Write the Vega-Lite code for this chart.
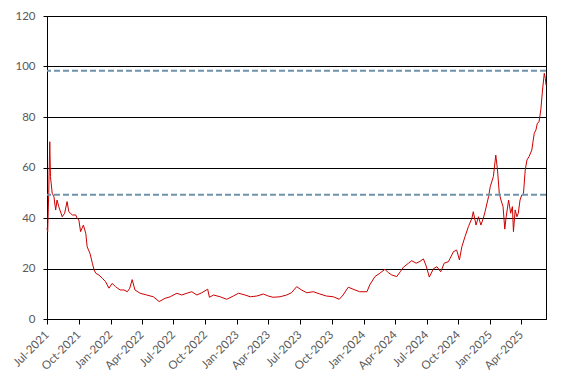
{
  "$schema": "https://vega.github.io/schema/vega-lite/v6.json",
  "width": 499,
  "height": 303,
  "autosize": "none",
  "padding": {"left": 47, "top": 16, "right": 28, "bottom": 66},
  "config": {
    "view": {"stroke": "#000000", "strokeWidth": 1},
    "font": "Lato",
    "axis": {"labelFont": "Lato", "labelFontSize": 11.5, "labelColor": "#595959", "domainColor": "#000000", "tickColor": "#000000", "domainWidth": 1, "tickWidth": 1}
  },
  "datasets": {
    "series": [
      {"date": "2021-07-01", "value": 36.0},
      {"date": "2021-07-03", "value": 34.6},
      {"date": "2021-07-06", "value": 50.0},
      {"date": "2021-07-09", "value": 70.2},
      {"date": "2021-07-11", "value": 56.4},
      {"date": "2021-07-16", "value": 49.8},
      {"date": "2021-07-21", "value": 48.4},
      {"date": "2021-07-26", "value": 43.2},
      {"date": "2021-07-30", "value": 47.1},
      {"date": "2021-08-04", "value": 44.5},
      {"date": "2021-08-14", "value": 40.5},
      {"date": "2021-08-21", "value": 41.9},
      {"date": "2021-08-28", "value": 46.5},
      {"date": "2021-09-02", "value": 42.5},
      {"date": "2021-09-12", "value": 41.2},
      {"date": "2021-09-22", "value": 41.2},
      {"date": "2021-09-26", "value": 39.9},
      {"date": "2021-10-01", "value": 39.2},
      {"date": "2021-10-06", "value": 34.6},
      {"date": "2021-10-14", "value": 37.2},
      {"date": "2021-10-21", "value": 33.9},
      {"date": "2021-10-25", "value": 28.6},
      {"date": "2021-11-02", "value": 26.0},
      {"date": "2021-11-09", "value": 22.1},
      {"date": "2021-11-14", "value": 19.4},
      {"date": "2021-11-19", "value": 18.1},
      {"date": "2021-11-28", "value": 17.4},
      {"date": "2021-12-08", "value": 16.1},
      {"date": "2021-12-17", "value": 14.8},
      {"date": "2021-12-27", "value": 12.2},
      {"date": "2022-01-05", "value": 14.1},
      {"date": "2022-01-15", "value": 12.8},
      {"date": "2022-01-28", "value": 11.5},
      {"date": "2022-02-08", "value": 11.5},
      {"date": "2022-02-18", "value": 10.8},
      {"date": "2022-02-25", "value": 12.2},
      {"date": "2022-03-04", "value": 15.6},
      {"date": "2022-03-12", "value": 11.5},
      {"date": "2022-03-27", "value": 10.2},
      {"date": "2022-04-15", "value": 9.5},
      {"date": "2022-05-04", "value": 8.8},
      {"date": "2022-05-21", "value": 6.9},
      {"date": "2022-06-07", "value": 8.2},
      {"date": "2022-06-22", "value": 8.8},
      {"date": "2022-07-11", "value": 10.2},
      {"date": "2022-07-25", "value": 9.5},
      {"date": "2022-08-09", "value": 10.2},
      {"date": "2022-08-23", "value": 10.8},
      {"date": "2022-09-07", "value": 9.5},
      {"date": "2022-09-21", "value": 10.4},
      {"date": "2022-10-08", "value": 11.8},
      {"date": "2022-10-13", "value": 8.6},
      {"date": "2022-10-25", "value": 9.5},
      {"date": "2022-11-13", "value": 8.8},
      {"date": "2022-12-02", "value": 7.8},
      {"date": "2022-12-21", "value": 9.1},
      {"date": "2023-01-05", "value": 10.2},
      {"date": "2023-01-24", "value": 9.5},
      {"date": "2023-02-08", "value": 8.8},
      {"date": "2023-02-27", "value": 9.1},
      {"date": "2023-03-18", "value": 9.9},
      {"date": "2023-04-01", "value": 9.1},
      {"date": "2023-04-15", "value": 8.6},
      {"date": "2023-05-05", "value": 8.8},
      {"date": "2023-05-24", "value": 9.5},
      {"date": "2023-06-07", "value": 10.4},
      {"date": "2023-06-22", "value": 12.8},
      {"date": "2023-07-06", "value": 11.5},
      {"date": "2023-07-21", "value": 10.4},
      {"date": "2023-08-09", "value": 10.8},
      {"date": "2023-08-28", "value": 9.9},
      {"date": "2023-09-16", "value": 9.1},
      {"date": "2023-10-06", "value": 8.8},
      {"date": "2023-10-23", "value": 7.8},
      {"date": "2023-11-03", "value": 9.5},
      {"date": "2023-11-18", "value": 12.6},
      {"date": "2023-12-02", "value": 11.8},
      {"date": "2023-12-21", "value": 10.8},
      {"date": "2024-01-11", "value": 10.8},
      {"date": "2024-01-19", "value": 13.5},
      {"date": "2024-02-03", "value": 16.8},
      {"date": "2024-02-17", "value": 18.1},
      {"date": "2024-03-03", "value": 19.7},
      {"date": "2024-03-13", "value": 18.3},
      {"date": "2024-03-23", "value": 17.4},
      {"date": "2024-04-06", "value": 16.8},
      {"date": "2024-04-16", "value": 18.7},
      {"date": "2024-04-25", "value": 20.5},
      {"date": "2024-05-10", "value": 22.1},
      {"date": "2024-05-19", "value": 23.1},
      {"date": "2024-06-01", "value": 22.1},
      {"date": "2024-06-12", "value": 22.8},
      {"date": "2024-06-22", "value": 23.8},
      {"date": "2024-06-30", "value": 21.0},
      {"date": "2024-07-09", "value": 16.6},
      {"date": "2024-07-21", "value": 19.9},
      {"date": "2024-07-31", "value": 20.7},
      {"date": "2024-08-11", "value": 18.7},
      {"date": "2024-08-21", "value": 22.1},
      {"date": "2024-09-02", "value": 22.7},
      {"date": "2024-09-07", "value": 24.0},
      {"date": "2024-09-17", "value": 26.7},
      {"date": "2024-09-26", "value": 27.3},
      {"date": "2024-10-04", "value": 23.4},
      {"date": "2024-10-11", "value": 28.6},
      {"date": "2024-10-20", "value": 32.6},
      {"date": "2024-10-30", "value": 36.6},
      {"date": "2024-11-09", "value": 39.9},
      {"date": "2024-11-13", "value": 42.5},
      {"date": "2024-11-21", "value": 37.2},
      {"date": "2024-11-28", "value": 40.5},
      {"date": "2024-12-05", "value": 37.2},
      {"date": "2024-12-12", "value": 39.9},
      {"date": "2024-12-17", "value": 42.5},
      {"date": "2024-12-27", "value": 48.4},
      {"date": "2025-01-01", "value": 52.4},
      {"date": "2025-01-10", "value": 56.4},
      {"date": "2025-01-17", "value": 64.9},
      {"date": "2025-01-22", "value": 59.0},
      {"date": "2025-01-27", "value": 49.8},
      {"date": "2025-02-01", "value": 47.1},
      {"date": "2025-02-07", "value": 44.5},
      {"date": "2025-02-12", "value": 35.6},
      {"date": "2025-02-16", "value": 40.5},
      {"date": "2025-02-23", "value": 47.1},
      {"date": "2025-03-01", "value": 41.9},
      {"date": "2025-03-06", "value": 44.5},
      {"date": "2025-03-09", "value": 34.6},
      {"date": "2025-03-14", "value": 43.2},
      {"date": "2025-03-19", "value": 40.5},
      {"date": "2025-03-23", "value": 41.9},
      {"date": "2025-03-28", "value": 47.1},
      {"date": "2025-04-02", "value": 49.1},
      {"date": "2025-04-07", "value": 49.8},
      {"date": "2025-04-12", "value": 59.0},
      {"date": "2025-04-17", "value": 63.0},
      {"date": "2025-04-23", "value": 64.3},
      {"date": "2025-05-01", "value": 66.9},
      {"date": "2025-05-08", "value": 73.5},
      {"date": "2025-05-13", "value": 74.9},
      {"date": "2025-05-17", "value": 77.5},
      {"date": "2025-05-22", "value": 78.1},
      {"date": "2025-05-27", "value": 82.8},
      {"date": "2025-06-01", "value": 90.7},
      {"date": "2025-06-06", "value": 97.3},
      {"date": "2025-06-09", "value": 95.3},
      {"date": "2025-06-11", "value": 92.7}
    ],
    "levels": [
      {"level": 98.3},
      {"level": 49.2}
    ]
  },
  "layer": [
    {
      "data": {"name": "series"},
      "mark": {"type": "line", "color": "#cc0000", "strokeWidth": 1},
      "encoding": {
        "x": {
          "field": "date",
          "type": "temporal",
          "scale": {"type": "utc", "domain": [{"year": 2021, "month": 7, "date": 1, "utc": true}, {"year": 2025, "month": 6, "date": 11, "utc": true}], "nice": false},
          "axis": {
            "title": null,
            "grid": false,
            "format": "%b-%Y",
            "labelAngle": -45,
            "labelAlign": "right",
            "labelBaseline": "middle",
            "labelOverlap": false,
            "labelBound": false,
            "labelFlush": false,
            "tickSize": 5,
            "labelPadding": 9,
            "values": [
              {"year": 2021, "month": 7, "date": 1, "utc": true},
              {"year": 2021, "month": 10, "date": 1, "utc": true},
              {"year": 2022, "month": 1, "date": 1, "utc": true},
              {"year": 2022, "month": 4, "date": 1, "utc": true},
              {"year": 2022, "month": 7, "date": 1, "utc": true},
              {"year": 2022, "month": 10, "date": 1, "utc": true},
              {"year": 2023, "month": 1, "date": 1, "utc": true},
              {"year": 2023, "month": 4, "date": 1, "utc": true},
              {"year": 2023, "month": 7, "date": 1, "utc": true},
              {"year": 2023, "month": 10, "date": 1, "utc": true},
              {"year": 2024, "month": 1, "date": 1, "utc": true},
              {"year": 2024, "month": 4, "date": 1, "utc": true},
              {"year": 2024, "month": 7, "date": 1, "utc": true},
              {"year": 2024, "month": 10, "date": 1, "utc": true},
              {"year": 2025, "month": 1, "date": 1, "utc": true},
              {"year": 2025, "month": 4, "date": 1, "utc": true}
            ]
          }
        },
        "y": {
          "field": "value",
          "type": "quantitative",
          "scale": {"domain": [0, 120], "nice": false},
          "axis": {
            "title": null,
            "values": [0, 20, 40, 60, 80, 100, 120],
            "grid": true,
            "gridColor": "#000000",
            "gridOpacity": 1,
            "gridWidth": 1,
            "tickSize": 4,
            "labelPadding": 8
          }
        }
      }
    },
    {
      "data": {"name": "levels"},
      "mark": {"type": "rule", "color": "#6f93ab", "strokeWidth": 2, "strokeDash": [6, 3]},
      "encoding": {
        "y": {"field": "level", "type": "quantitative"}
      }
    }
  ]
}
